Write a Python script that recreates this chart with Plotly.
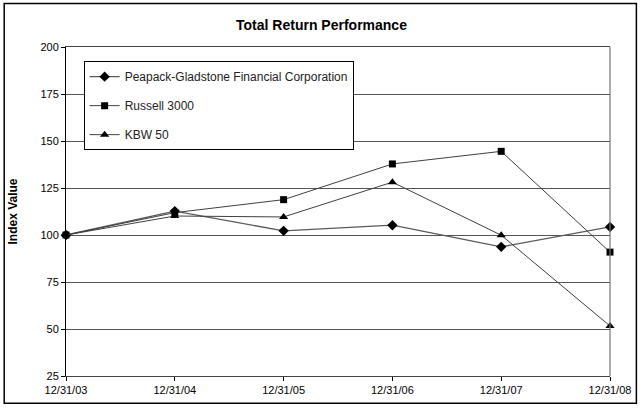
import plotly.graph_objects as go

dates = ['12/31/03', '12/31/04', '12/31/05', '12/31/06', '12/31/07', '12/31/08']
peapack = [100, 112.7, 102.2, 105.2, 93.7, 104.3]
russell = [100, 111.9, 118.8, 137.8, 144.5, 90.9]
kbw = [100, 110.1, 109.6, 128.1, 99.9, 51.6]
y_ticks = [25, 50, 75, 100, 125, 150, 175, 200]

FONT = 'Arial, Liberation Sans, sans-serif'
LINE = '#404040'

fig = go.Figure()

fig.add_trace(go.Scatter(
      x=dates, y=peapack,
      name='Peapack-Gladstone Financial Corporation',
      legendgroup='a',
      mode='lines+markers',
      line=dict(color='#5a5a5a', width=1.3),
      marker=dict(symbol='diamond', size=8, color='black'),
      cliponaxis=False
))

fig.add_trace(go.Scatter(
      x=dates, y=russell,
      name='Russell 3000',
      legendgroup='b',
      mode='lines+markers',
      line=dict(color=LINE, width=1),
      marker=dict(symbol='square', size=7, color='black'),
      cliponaxis=False
))

fig.add_trace(go.Scatter(
      x=dates, y=kbw,
      name='KBW 50',
      legendgroup='c',
      mode='lines+markers',
      line=dict(color=LINE, width=1),
      marker=dict(symbol='triangle-up', size=8, color='black'),
      cliponaxis=False
))

# outer frame around the whole picture (paper coords, plot area 65..611 x 46.7..377.7)
fig.add_shape(type='rect', xref='paper', yref='paper',
              x0=-0.1136, x1=1.0485, y0=-0.0825, y1=1.132,
              line=dict(color='black', width=1.5))

# right edge of the plot area
fig.add_shape(type='line', xref='paper', yref='paper', x0=1, x1=1, y0=0, y1=1,
              line=dict(color='#777777', width=1.2))

fig.update_layout(
  width=643, height=408,
  margin=dict(l=65, r=32, t=47, b=30),
  paper_bgcolor='white', plot_bgcolor='white',
  font=dict(family=FONT, size=11, color='black'),
  title=dict(text='<b>Total Return Performance</b>', x=0.5, xref='container',
             y=0.9387, yref='container', yanchor='middle',
             font=dict(size=14, color='black')),
  showlegend=True,
  legend=dict(x=0.0324, y=0.957, xanchor='left', yanchor='top',
              bgcolor='white', bordercolor='black', borderwidth=1,
              font=dict(size=12, color='#222222'),
              traceorder='grouped', tracegroupgap=10),
  xaxis=dict(type='category', range=[0, 5], showgrid=False,
             showline=True, linecolor='#444444', linewidth=1, mirror=True,
             ticks='outside', ticklen=4, tickcolor='black',
             zeroline=False),
  yaxis=dict(range=[25, 200], tickvals=y_ticks, showgrid=True,
             gridcolor='#555555', gridwidth=1,
             showline=True, linecolor='black', linewidth=1,
             ticks='outside', ticklen=4, tickcolor='black',
             zeroline=False,
             title=dict(text='<b>Index Value</b>', font=dict(size=12), standoff=20)),
  xaxis2=dict(type='category', range=[0, 5], overlaying='x', matches='x',
              showticklabels=False, ticks='inside', ticklen=4, tickcolor='black',
              showgrid=False, showline=False),
)

# the page body has a default 8px margin; drop it so the chart sits at 0,0
fig.write_html("out.html", config={'displayModeBar': False},
               post_script="document.body.style.margin='0';")
